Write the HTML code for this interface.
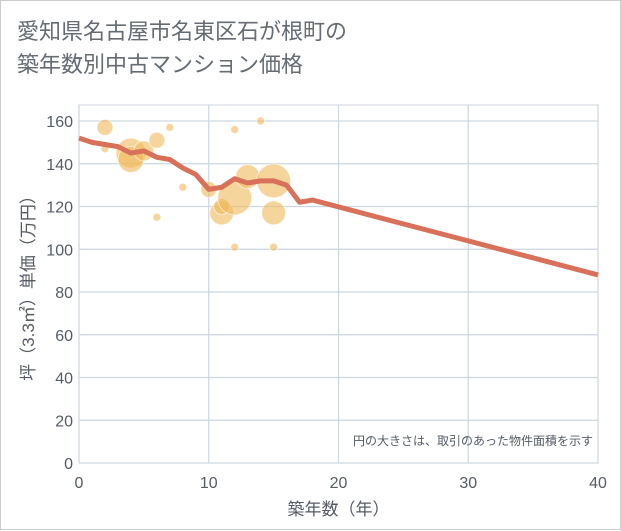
<!DOCTYPE html>
<html><head><meta charset="utf-8"><style>
body{margin:0;background:#fff;}
#wrap{position:relative;width:619px;height:528px;border:1px solid #ccc;background:#fff;font-family:"Liberation Sans","Noto Sans CJK JP",sans-serif;}
#title{position:absolute;left:16px;top:14px;font-size:22px;line-height:33px;color:#666c73;}
svg{position:absolute;left:0;top:0;}
</style></head><body>
<div id="wrap">
<div id="title">愛知県名古屋市名東区石が根町の<br>築年数別中古マンション価格</div>
<svg id="chart" width="621" height="530"></svg>
</div>
<script>
const xTicks=[0,10,20,30,40];
const yTicks=[0,20,40,60,80,100,120,140,160];
const bubbleX=[2,2,4,4,5,6,7,8,6,10,11,11,12,13,15,15,12,14,12,15];
const bubbleY=[157,147,145,142,146,151,157,129,115,128,117,120,124,134,132,117,156,160,101,101];
const bubbleR=[8,4,15,13,10,8,4,4,4,8,12,8,17,12,17,12,4,4,4,4];
const lineX=[0,1,2,3,4,5,6,7,8,9,10,11,12,13,14,15,16,17,18,40];
const lineY=[152,150,149,148,145,146,143,142,138,135,128,129,133,131,132,132,130,122,123,88];
const NS="http://www.w3.org/2000/svg";
const svg=document.getElementById('chart');
const X0=78,X1=597,Y0=462,Y1=104;
const sx=v=>X0+(X1-X0)*v/40;
const sy=v=>Y0-(Y0-120)*v/160;
function mk(tag,attrs,parent){const e=document.createElementNS(NS,tag);for(const k in attrs)e.setAttribute(k,attrs[k]);(parent||svg).appendChild(e);return e;}
const bg=mk('rect',{x:X0,y:Y1,width:X1-X0,height:Y0-Y1,fill:'#fff',stroke:'#ccd6e0'});


yTicks.forEach(t=>{
 const g=mk('line',{x1:X0,x2:X1,y1:sy(t),y2:sy(t),stroke:'#ccd6e0','stroke-width':1.2});
 
 
 const l=mk('text',{x:X0-6,y:sy(t)+6,'text-anchor':'end','font-size':16,fill:'#555c66'});
 l.textContent=t;
 
 
});
xTicks.forEach(t=>{
 const g=mk('line',{x1:sx(t),x2:sx(t),y1:Y1,y2:Y0,stroke:'#ccd6e0','stroke-width':1.2});
 
 
 const l=mk('text',{x:sx(t),y:Y0+25,'text-anchor':'middle','font-size':16,fill:'#555c66'});
 l.textContent=t;
 
 
});
bubbleX.forEach((v,i)=>{
 const c=mk('circle',{cx:sx(v),cy:sy(bubbleY[i]),r:bubbleR[i],fill:'rgba(240,185,90,0.6)',stroke:'rgba(255,255,255,0.6)','stroke-width':1});
 
 
});
const p=mk('polyline',{points:lineX.map((v,i)=>sx(v)+','+sy(lineY[i])).join(' '),fill:'none',stroke:'#d8705a','stroke-width':5,'stroke-linejoin':'round'});


const note=mk('text',{x:592,y:444,'text-anchor':'end','font-size':12,fill:'#555c66'});
note.textContent='円の大きさは、取引のあった物件面積を示す';


const xt=mk('text',{x:(X0+X1)/2,y:514,'text-anchor':'middle','font-size':17,fill:'#555c66'});
xt.textContent='築年数（年）';


const yt=mk('text',{x:0,y:0,'text-anchor':'middle','font-size':17,fill:'#555c66',transform:'translate(33,283) rotate(-90)'});
yt.textContent='坪（3.3㎡）単価（万円）';


</script>
</body></html>
